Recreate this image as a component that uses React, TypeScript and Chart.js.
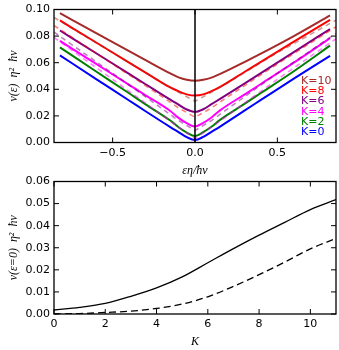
import React, { useEffect, useRef } from "react";
import { Chart, registerables } from "chart.js";
Chart.register(...registerables);

// ---------- top panel data ----------
const EPS = [-0.82, -0.6, -0.4, -0.3, -0.15, -0.1, -0.05, 0, 0.05, 0.1, 0.15, 0.3, 0.4, 0.6, 0.82];
const NU_K0 = [0.0655, 0.0477, 0.0316, 0.0235, 0.0116, 0.0078, 0.004, 0.0018, 0.0042, 0.008, 0.0118, 0.024, 0.032, 0.048, 0.0652];
const NU_K2 = [0.0715, 0.0534, 0.037, 0.0287, 0.0165, 0.0115, 0.0075, 0.0048, 0.0078, 0.0118, 0.0168, 0.029, 0.0372, 0.0536, 0.0728];
const NU_K4 = [0.0764, 0.0591, 0.0433, 0.0355, 0.0237, 0.0185, 0.0145, 0.012, 0.0147, 0.0188, 0.024, 0.036, 0.044, 0.06, 0.0785];
const NU_K6 = [0.0842, 0.0671, 0.0516, 0.0438, 0.0322, 0.0285, 0.0248, 0.023, 0.025, 0.0288, 0.0326, 0.0443, 0.0522, 0.068, 0.0853];
const NU_K8 = [0.0918, 0.0752, 0.0601, 0.0526, 0.0414, 0.0385, 0.0362, 0.0353, 0.0362, 0.0386, 0.0416, 0.053, 0.0606, 0.0758, 0.0922];
const NU_K10 = [0.0972, 0.0823, 0.0687, 0.0619, 0.0519, 0.049, 0.0472, 0.0465, 0.0472, 0.0488, 0.0514, 0.0605, 0.0668, 0.08, 0.0955];

const EPS_DASH = [-0.856, -0.5, -0.2, -0.1, 0, 0.1, 0.2, 0.5, 0.856];
const NU_DASH_K4 = [0.079, 0.0475, 0.0205, 0.0115, 0.003, 0.0115, 0.0205, 0.0475, 0.078];
const NU_DASH_K6 = [0.083, 0.052, 0.0255, 0.0165, 0.009, 0.0165, 0.0255, 0.052, 0.082];
const NU_DASH_K8 = [0.088, 0.059, 0.0345, 0.026, 0.019, 0.026, 0.0345, 0.059, 0.087];
const NU_DASH_K10 = [0.094, 0.0675, 0.045, 0.0378, 0.031, 0.0378, 0.045, 0.0675, 0.092];

const TOP_X_TICKS = [-0.5, 0, 0.5];
const TOP_Y_TICKS = [0, 0.02, 0.04, 0.06, 0.08, 0.1];
const LEGEND_LABELS = ["K=10", "K=8", "K=6", "K=4", "K=2", "K=0"];
const LEGEND_COLORS = ["#a52a2a", "#ff0000", "#800080", "#ff00ff", "#008000", "#0000ff"];

// ---------- bottom panel data ----------
const K_VALUES = [0, 1, 2, 3, 4, 5, 6, 7, 8, 9, 10, 11];
const NU0_SOLID = [0.0018, 0.003, 0.0048, 0.008, 0.0118, 0.0168, 0.0232, 0.0296, 0.0357, 0.0415, 0.0473, 0.0518];
const NU0_DASHED = [0, 0.0002, 0.0007, 0.0013, 0.0025, 0.0045, 0.0078, 0.0125, 0.0178, 0.0235, 0.0295, 0.0342];
const BOTTOM_X_TICKS = [0, 2, 4, 6, 8, 10];
const BOTTOM_Y_TICKS = [0, 0.01, 0.02, 0.03, 0.04, 0.05, 0.06];

const TICK_FONT = { family: "DejaVu Sans", size: 11, lineHeight: 1 };
const TITLE_FONT = { family: "Liberation Serif", style: "italic" as const, size: 12, lineHeight: 1.2 };

const pts = (xs: number[], ys: number[]) => xs.map((x, i) => ({ x, y: ys[i] }));

const framePlugin = {
  id: "frame",
  afterDraw(chart: any, _args: any, opts: any) {
    const { ctx, chartArea } = chart;
    const { left, right, top, bottom } = chartArea;
    const xs = chart.scales.x;
    const ys = chart.scales.y;
    ctx.save();
    ctx.strokeStyle = "#000";
    ctx.lineWidth = 1;
    const tl = 5;
    ctx.beginPath();
    (opts.xTicks || []).forEach((v: number) => {
      const px = xs.getPixelForValue(v);
      ctx.moveTo(px, bottom);
      ctx.lineTo(px, bottom - tl);
      ctx.moveTo(px, top);
      ctx.lineTo(px, top + tl);
    });
    (opts.yTicks || []).forEach((v: number) => {
      const py = ys.getPixelForValue(v);
      ctx.moveTo(left, py);
      ctx.lineTo(left + tl, py);
      ctx.moveTo(right, py);
      ctx.lineTo(right - tl, py);
    });
    ctx.stroke();
    ctx.lineWidth = 1.3;
    ctx.strokeRect(left, top, right - left, bottom - top);
    ctx.restore();
  },
};

const zeroLinePlugin = {
  id: "zeroLine",
  afterDatasetsDraw(chart: any) {
    const { ctx, chartArea } = chart;
    const px = chart.scales.x.getPixelForValue(0);
    ctx.save();
    ctx.strokeStyle = "#000";
    ctx.lineWidth = 1.5;
    ctx.beginPath();
    ctx.moveTo(px, chartArea.top);
    ctx.lineTo(px, chartArea.bottom);
    ctx.stroke();
    ctx.restore();
  },
};

const textLegendPlugin = {
  id: "textLegend",
  afterDraw(chart: any) {
    const { ctx, chartArea } = chart;
    ctx.save();
    ctx.font = "11px 'DejaVu Sans'";
    ctx.textAlign = "left";
    ctx.textBaseline = "middle";
    const n = LEGEND_LABELS.length;
    LEGEND_LABELS.forEach((lab, i) => {
      ctx.fillStyle = LEGEND_COLORS[i];
      const y = chartArea.bottom - 10.2 - (n - 1 - i) * 10.3;
      ctx.fillText(lab, 301, y);
    });
    ctx.restore();
  },
};

const solid = (data: number[], color: string) => ({
  data: pts(EPS, data),
  borderColor: color,
  borderWidth: 2,
  pointRadius: 0,
  fill: false,
  cubicInterpolationMode: "monotone" as const,
});
const dashed = (data: number[], color: string) => ({
  data: pts(EPS_DASH, data),
  borderColor: color,
  borderWidth: 1.6,
  borderDash: [5, 4],
  pointRadius: 0,
  fill: false,
  tension: 0,
});

function topConfig(): any {
  return {
    type: "line",
    data: {
      datasets: [
        solid(NU_K10, "#a52a2a"),
        dashed(NU_DASH_K10, "rgba(165,42,42,0.5)"),
        solid(NU_K8, "#ff0000"),
        dashed(NU_DASH_K8, "rgba(255,0,0,0.5)"),
        solid(NU_K6, "#800080"),
        dashed(NU_DASH_K6, "rgba(128,0,128,0.5)"),
        solid(NU_K4, "#ff00ff"),
        dashed(NU_DASH_K4, "rgba(255,0,255,0.5)"),
        solid(NU_K2, "#008000"),
        solid(NU_K0, "#0000ff"),
      ],
    },
    options: {
      responsive: false,
      maintainAspectRatio: false,
      devicePixelRatio: 1,
      animation: false,
      layout: { padding: { top: 6, right: 3, left: 0, bottom: 0 } },
      plugins: {
        legend: { display: false },
        tooltip: { enabled: false },
        frame: { xTicks: TOP_X_TICKS, yTicks: TOP_Y_TICKS },
      },
      scales: {
        x: {
          type: "linear",
          min: -0.856,
          max: 0.856,
          grid: { display: false, drawTicks: false },
          border: { display: false },
          afterBuildTicks: (s: any) => {
            s.ticks = TOP_X_TICKS.map((v) => ({ value: v }));
          },
          afterFit: (s: any) => {
            s.height = 35.5;
          },
          ticks: {
            font: TICK_FONT,
            color: "#000",
            padding: 5,
            maxRotation: 0,
            autoSkip: false,
            callback: (v: number) => (v < 0 ? "\u2212" + Math.abs(v).toFixed(1) : v.toFixed(1)),
          },
          title: { display: true, text: "εη/ħv", font: TITLE_FONT, color: "#000", padding: 0 },
        },
        y: {
          type: "linear",
          min: 0,
          max: 0.1,
          grid: { display: false, drawTicks: false },
          border: { display: false },
          afterBuildTicks: (s: any) => {
            s.ticks = TOP_Y_TICKS.map((v) => ({ value: v }));
          },
          afterFit: (s: any) => {
            s.width = 54;
          },
          ticks: {
            font: TICK_FONT,
            color: "#000",
            padding: 4,
            autoSkip: false,
            callback: (v: number) => v.toFixed(2),
          },
          title: {
            display: true,
            text: "ν(ε)  η²  ħv",
            font: TITLE_FONT,
            color: "#000",
            padding: { top: 6.8, bottom: 0 },
          },
        },
      },
    },
    plugins: [zeroLinePlugin, framePlugin, textLegendPlugin],
  };
}

function bottomConfig(): any {
  return {
    type: "line",
    data: {
      datasets: [
        {
          data: pts(K_VALUES, NU0_SOLID),
          borderColor: "#000",
          borderWidth: 1.3,
          pointRadius: 0,
          fill: false,
          cubicInterpolationMode: "monotone",
        },
        {
          data: pts(K_VALUES, NU0_DASHED),
          borderColor: "#000",
          borderWidth: 1.3,
          borderDash: [7, 4],
          pointRadius: 0,
          fill: false,
          cubicInterpolationMode: "monotone",
        },
      ],
    },
    options: {
      responsive: false,
      maintainAspectRatio: false,
      devicePixelRatio: 1,
      animation: false,
      layout: { padding: { top: 7.5, right: 3, left: 0, bottom: 0 } },
      plugins: {
        legend: { display: false },
        tooltip: { enabled: false },
        frame: { xTicks: BOTTOM_X_TICKS, yTicks: BOTTOM_Y_TICKS },
      },
      scales: {
        x: {
          type: "linear",
          min: 0,
          max: 11,
          grid: { display: false, drawTicks: false },
          border: { display: false },
          afterBuildTicks: (s: any) => {
            s.ticks = BOTTOM_X_TICKS.map((v) => ({ value: v }));
          },
          afterFit: (s: any) => {
            s.height = 36;
          },
          ticks: {
            font: TICK_FONT,
            color: "#000",
            padding: 5,
            maxRotation: 0,
            autoSkip: false,
            callback: (v: number) => String(v),
          },
          title: { display: true, text: "K", font: TITLE_FONT, color: "#000", padding: { top: 0, bottom: 1 } },
        },
        y: {
          type: "linear",
          min: 0,
          max: 0.06,
          grid: { display: false, drawTicks: false },
          border: { display: false },
          afterBuildTicks: (s: any) => {
            s.ticks = BOTTOM_Y_TICKS.map((v) => ({ value: v }));
          },
          afterFit: (s: any) => {
            s.width = 54;
          },
          ticks: {
            font: TICK_FONT,
            color: "#000",
            padding: 4,
            autoSkip: false,
            callback: (v: number) => v.toFixed(2),
          },
          title: {
            display: true,
            text: "ν(ε=0)  η²  ħv",
            font: TITLE_FONT,
            color: "#000",
            padding: { top: 6.8, bottom: 0 },
          },
        },
      },
    },
    plugins: [framePlugin],
  };
}

function ChartCanvas({ make, top, height }: { make: () => any; top: number; height: number }) {
  const ref = useRef<HTMLCanvasElement>(null);
  useEffect(() => {
    const chart = new Chart(ref.current as HTMLCanvasElement, make());
    return () => chart.destroy();
  }, []);
  return (
    <canvas
      ref={ref}
      width={339}
      height={height}
      style={{ position: "absolute", left: 0, top, width: 339, height, display: "block" }}
    />
  );
}

export default function App() {
  return (
    <div style={{ position: "absolute", left: 0, top: 0, width: 339, height: 350, background: "#fff" }}>
      <ChartCanvas make={topConfig} top={0} height={178} />
      <ChartCanvas make={bottomConfig} top={172} height={178} />
    </div>
  );
}
